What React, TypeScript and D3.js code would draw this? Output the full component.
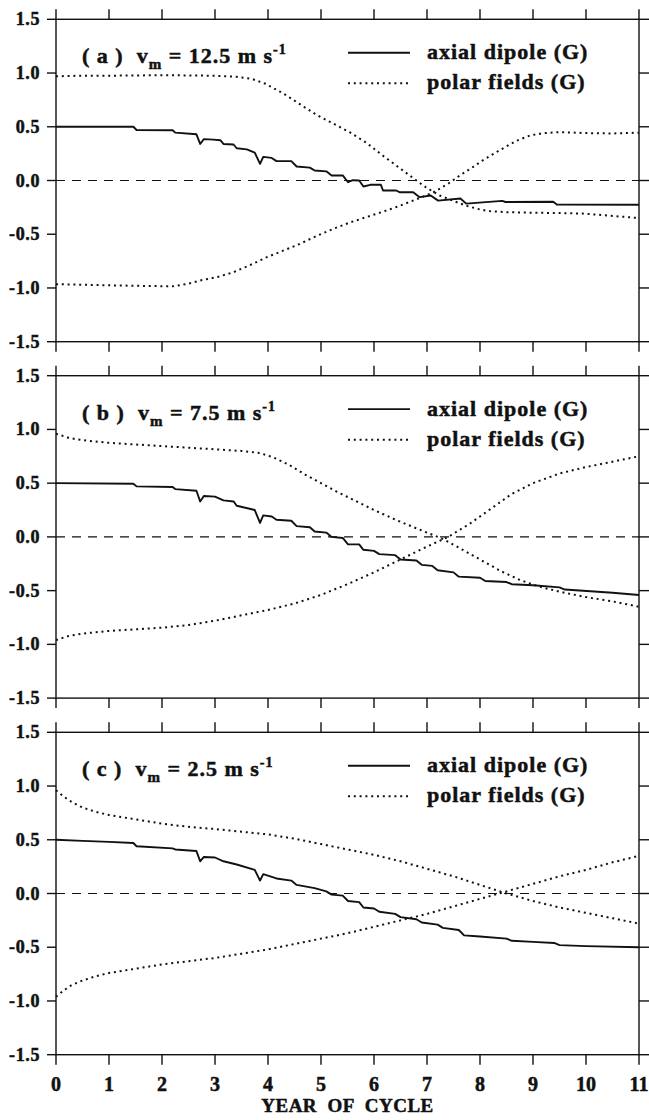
import React from "react";
import * as d3 from "d3";

type P = [number, number];

const xTicks = [0, 1, 2, 3, 4, 5, 6, 7, 8, 9, 10, 11];
const yTicks = [1.5, 1.0, 0.5, 0.0, -0.5, -1.0, -1.5];
const panelLetters = ["a", "b", "c"];
const panelSpeeds = ["12.5", "7.5", "2.5"];
const legendLabels = ["axial dipole (G)", "polar fields (G)"];
const xLabel = "YEAR  OF  CYCLE";

const dipoleA: P[] = [[0,0.5],[1.46,0.5],[1.52,0.47],[2.2,0.468],[2.25,0.445],[2.65,0.43],[2.72,0.34],[2.79,0.385],[2.97,0.38],[3.1,0.375],[3.16,0.34],[3.35,0.335],[3.41,0.3],[3.6,0.29],[3.75,0.26],[3.85,0.155],[3.91,0.22],[4.07,0.21],[4.16,0.18],[4.44,0.18],[4.54,0.13],[4.79,0.12],[4.88,0.093],[5.1,0.085],[5.2,0.047],[5.41,0.047],[5.51,-0.016],[5.6,0.003],[5.72,0.0],[5.8,-0.056],[5.93,-0.04],[6.13,-0.04],[6.17,-0.093],[6.42,-0.093],[6.49,-0.11],[6.74,-0.11],[6.86,-0.155],[7.07,-0.14],[7.21,-0.187],[7.63,-0.168],[7.74,-0.215],[8.42,-0.19],[8.48,-0.2],[9.38,-0.198],[9.45,-0.223],[11,-0.225]];
const northA: P[] = [[0,0.97],[0.5,0.975],[1,0.975],[2,0.98],[3,0.975],[3.4,0.965],[3.7,0.945],[3.95,0.9],[4.29,0.81],[4.6,0.71],[4.92,0.61],[5.23,0.53],[5.54,0.45],[5.86,0.35],[6.17,0.23],[6.5,0.11],[6.8,0.0],[7.0,-0.07],[7.24,-0.14],[7.5,-0.19],[7.74,-0.235],[8.0,-0.27],[8.18,-0.285],[8.5,-0.295],[9.0,-0.3],[9.5,-0.303],[9.94,-0.308],[10.4,-0.325],[11,-0.35]];
const southA: P[] = [[0,-0.965],[0.5,-0.97],[1,-0.975],[1.5,-0.98],[2.2,-0.985],[2.5,-0.96],[2.72,-0.93],[3.03,-0.9],[3.34,-0.855],[3.65,-0.79],[3.97,-0.715],[4.3,-0.65],[4.6,-0.59],[4.9,-0.52],[5.23,-0.45],[5.55,-0.39],[5.86,-0.34],[6.17,-0.29],[6.49,-0.235],[6.8,-0.175],[7.12,-0.11],[7.4,-0.03],[7.62,0.047],[7.85,0.12],[8.06,0.19],[8.4,0.29],[8.69,0.37],[8.95,0.42],[9.19,0.44],[9.5,0.45],[10.1,0.44],[10.5,0.438],[11,0.445]];

const dipoleB: P[] = [[0,0.5],[1.46,0.495],[1.52,0.47],[2.2,0.465],[2.25,0.445],[2.65,0.43],[2.72,0.33],[2.79,0.38],[3.0,0.375],[3.16,0.34],[3.35,0.33],[3.41,0.29],[3.75,0.25],[3.85,0.13],[3.91,0.2],[4.07,0.19],[4.16,0.16],[4.44,0.15],[4.54,0.1],[4.79,0.09],[4.88,0.05],[5.1,0.04],[5.2,0.0],[5.41,-0.01],[5.51,-0.07],[5.72,-0.07],[5.8,-0.12],[6.0,-0.13],[6.1,-0.16],[6.4,-0.17],[6.5,-0.21],[6.8,-0.22],[6.9,-0.26],[7.1,-0.27],[7.2,-0.31],[7.5,-0.33],[7.6,-0.37],[8.0,-0.38],[8.1,-0.41],[8.5,-0.42],[8.6,-0.44],[9.0,-0.45],[9.5,-0.47],[9.6,-0.49],[10.5,-0.52],[11,-0.54]];
const northB: P[] = [[0,0.96],[0.25,0.92],[0.5,0.9],[1,0.875],[1.5,0.86],[2,0.845],[2.5,0.83],[3,0.815],[3.5,0.8],[3.85,0.78],[4.1,0.74],[4.4,0.67],[4.7,0.58],[5.0,0.5],[5.3,0.42],[5.55,0.36],[6.0,0.25],[6.5,0.14],[7.0,0.04],[7.3,-0.02],[7.6,-0.1],[8.0,-0.21],[8.4,-0.32],[8.75,-0.4],[9.1,-0.46],[9.5,-0.51],[10,-0.56],[10.5,-0.6],[11,-0.65]];
const southB: P[] = [[0,-0.96],[0.25,-0.92],[0.5,-0.9],[1,-0.875],[1.5,-0.86],[2,-0.845],[2.5,-0.82],[3,-0.78],[3.5,-0.73],[4,-0.68],[4.5,-0.62],[5,-0.54],[5.5,-0.44],[6,-0.33],[6.5,-0.21],[7,-0.09],[7.4,0.0],[7.8,0.12],[8.2,0.26],[8.6,0.4],[9,0.5],[9.5,0.59],[10,0.65],[10.5,0.7],[11,0.75]];

const dipoleC: P[] = [[0,0.5],[0.5,0.49],[1,0.48],[1.46,0.47],[1.52,0.44],[2.2,0.42],[2.25,0.41],[2.65,0.395],[2.72,0.3],[2.79,0.34],[3.0,0.335],[3.16,0.3],[3.41,0.27],[3.75,0.22],[3.85,0.12],[3.91,0.18],[4.16,0.14],[4.44,0.12],[4.54,0.08],[4.88,0.05],[5.1,0.02],[5.2,-0.01],[5.41,-0.02],[5.51,-0.07],[5.72,-0.08],[5.8,-0.13],[6.0,-0.14],[6.1,-0.17],[6.4,-0.19],[6.5,-0.22],[6.8,-0.24],[6.9,-0.27],[7.2,-0.29],[7.3,-0.32],[7.6,-0.34],[7.7,-0.39],[8.0,-0.4],[8.5,-0.42],[8.6,-0.44],[9.0,-0.45],[9.4,-0.46],[9.5,-0.48],[10,-0.49],[11,-0.5]];
const northC: P[] = [[0,0.96],[0.15,0.9],[0.3,0.85],[0.5,0.8],[0.75,0.76],[1,0.73],[1.5,0.69],[2,0.65],[2.5,0.62],[3,0.6],[3.5,0.575],[4,0.55],[4.5,0.51],[5,0.46],[5.5,0.41],[6,0.36],[6.5,0.3],[7,0.23],[7.5,0.16],[8,0.08],[8.5,0.0],[9,-0.07],[9.5,-0.13],[10,-0.18],[10.5,-0.23],[11,-0.28]];
const southC: P[] = [[0,-0.96],[0.15,-0.9],[0.3,-0.85],[0.5,-0.81],[0.75,-0.77],[1,-0.74],[1.5,-0.7],[2,-0.66],[2.5,-0.63],[3,-0.6],[3.5,-0.56],[4,-0.52],[4.5,-0.47],[5,-0.42],[5.5,-0.37],[6,-0.31],[6.5,-0.25],[7,-0.19],[7.5,-0.12],[8,-0.05],[8.5,0.02],[9,0.09],[9.5,0.16],[10,0.22],[10.5,0.29],[11,0.35]];

const dipoles = [dipoleA, dipoleB, dipoleC];
const norths = [northA, northB, northC];
const souths = [southA, southB, southC];

const W = 649;
const H = 1120;
const LEFT = 56;
const RIGHT = 639;
const PANEL_TOPS = [19.3, 375.7, 732.3];
const PANEL_H = 322.4;
const INK = "#111";
const DOT = "2 3.8";
const txt: React.CSSProperties = {
  fontFamily: '"Liberation Serif", "Times New Roman", serif',
  fontWeight: 700,
  whiteSpace: "pre",
  stroke: "#111",
  strokeWidth: 0.5,
};

const x = d3.scaleLinear().domain([0, 11]).range([LEFT, RIGHT]);

function Panel({ i }: { i: number }) {
  const top = PANEL_TOPS[i];
  const bottom = top + PANEL_H;
  const y = d3.scaleLinear().domain([-1.5, 1.5]).range([bottom, top]);
  const line = d3
    .line<P>()
    .x((d) => x(d[0]))
    .y((d) => y(d[1]));
  const tick = 10;
  return (
    <g>
      <rect x={LEFT} y={top} width={RIGHT - LEFT} height={PANEL_H} fill="none" stroke={INK} strokeWidth={1.4} />
      {xTicks.map((t) => (
        <g key={"xt" + t}>
          <line x1={x(t)} x2={x(t)} y1={top} y2={top - tick} stroke={INK} strokeWidth={1.4} />
          <line x1={x(t)} x2={x(t)} y1={bottom} y2={bottom + tick} stroke={INK} strokeWidth={1.4} />
        </g>
      ))}
      {yTicks.map((t) => (
        <g key={"yt" + t}>
          <line x1={LEFT} x2={LEFT - 9} y1={y(t)} y2={y(t)} stroke={INK} strokeWidth={1.4} />
          <line x1={RIGHT} x2={RIGHT + 10} y1={y(t)} y2={y(t)} stroke={INK} strokeWidth={1.4} />
          <text x={40} y={y(t) + 6} textAnchor="end" fontSize={18} letterSpacing={0.6} fill={INK} style={txt}>
            {t.toFixed(1)}
          </text>
        </g>
      ))}
      <line x1={LEFT} x2={RIGHT} y1={y(0)} y2={y(0)} stroke={INK} strokeWidth={1.1} strokeDasharray="9 7" />
      <path d={line(norths[i]) || ""} fill="none" stroke={INK} strokeWidth={2} strokeDasharray={DOT} />
      <path d={line(souths[i]) || ""} fill="none" stroke={INK} strokeWidth={2} strokeDasharray={DOT} />
      <path d={line(dipoles[i]) || ""} fill="none" stroke={INK} strokeWidth={1.9} strokeLinejoin="round" />
      <text x={82} y={top + 44} fontSize={22} letterSpacing={1} fill={INK} style={txt}>
        <tspan>{"( " + panelLetters[i] + " )  v"}</tspan>
        <tspan fontSize={15} dy={6}>m</tspan>
        <tspan dy={-6}>{" = " + panelSpeeds[i] + " m s"}</tspan>
        <tspan fontSize={14} dy={-9}>-1</tspan>
      </text>
      <line x1={348} x2={410} y1={top + 33.4} y2={top + 33.4} stroke={INK} strokeWidth={1.9} />
      <line x1={348} x2={410} y1={top + 64} y2={top + 64} stroke={INK} strokeWidth={2} strokeDasharray={DOT} />
      <text x={427} y={top + 40} fontSize={22} letterSpacing={1} fill={INK} style={txt}>
        {legendLabels[0]}
      </text>
      <text x={427} y={top + 70} fontSize={22} letterSpacing={1} fill={INK} style={txt}>
        {legendLabels[1]}
      </text>
    </g>
  );
}

export default function App() {
  const bottom = PANEL_TOPS[2] + PANEL_H;
  return (
    <div style={{ position: "absolute", left: 0, top: 0 }}>
      <svg width={W} height={H} viewBox={`0 0 ${W} ${H}`} style={{ display: "block", background: "#fff" }}>
        <rect x={0} y={0} width={W} height={H} fill="#fff" />
        {[0, 1, 2].map((i) => (
          <Panel key={i} i={i} />
        ))}
        {xTicks.map((t) => (
          <text key={"xl" + t} x={x(t)} y={bottom + 36} textAnchor="middle" fontSize={20} fill={INK} style={txt}>
            {t}
          </text>
        ))}
        <text x={(LEFT + RIGHT) / 2} y={bottom + 57} textAnchor="middle" fontSize={19} letterSpacing={0.5} fill={INK} style={txt}>
          {xLabel}
        </text>
      </svg>
    </div>
  );
}
